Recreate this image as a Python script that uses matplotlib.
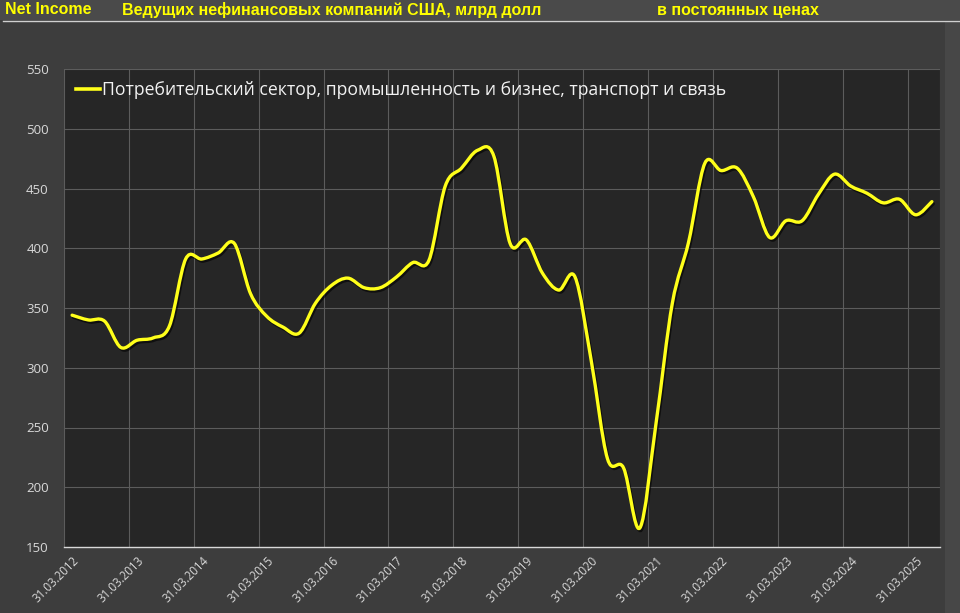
import matplotlib
matplotlib.use("Agg")
import matplotlib.pyplot as plt
import numpy as np
from matplotlib.path import Path
from matplotlib.patches import PathPatch, Rectangle
from matplotlib.lines import Line2D
import matplotlib.patheffects as pe

# ---- data ----
years = list(range(2012, 2026))
quarter_ends = ["31.03", "30.06", "30.09", "31.12"]
net_income = [344, 340, 339, 317, 323, 325, 335, 391, 391, 396, 404, 362, 343, 334,
              329, 354, 369, 375, 367, 367, 376, 388, 390, 452, 467, 482, 477, 404,
              407, 379, 365, 376, 306, 224, 216, 166, 254, 354, 405, 471, 465, 467,
              443, 409, 423, 423, 445, 462, 452, 446, 438, 441, 428, 439]
dates = [f"{q}.{y}" for y in years for q in quarter_ends][:len(net_income)]
y_ticks = [150, 200, 250, 300, 350, 400, 450, 500, 550]
title_parts = ["Net Income", "Ведущих нефинансовых компаний США, млрд долл", "в постоянных ценах"]
series_name = "Потребительский сектор, промышленность и бизнес, транспорт и связь"

plt.rcParams['font.family'] = ['Open Sans', 'DejaVu Sans']

W, H = 960, 613
fig = plt.figure(figsize=(W / 100, H / 100), dpi=100, facecolor="#3d3d3d")

# title band and side strip
fig.patches.append(Rectangle((0, 1 - 20 / H), 1, 20 / H, transform=fig.transFigure,
                             facecolor="#4a4a4a", edgecolor="none", zorder=0))
fig.patches.append(Rectangle((945 / W, 0), 15 / W, 1 - 21 / H, transform=fig.transFigure,
                             facecolor="#474747", edgecolor="none", zorder=0))
fig.lines.append(Line2D([3 / W, 1], [1 - 20.5 / H, 1 - 20.5 / H], transform=fig.transFigure,
                        color="#d0d0d0", lw=1.0))

ax = fig.add_axes([64 / W, 1 - 547 / H, (940 - 64) / W, (547 - 69) / H])
ax.set_facecolor("#262626")

n = len(net_income)
x = np.arange(n, dtype=float)
y = np.array(net_income, dtype=float)

# smooth (Catmull-Rom -> Bezier) line, like Excel's smoothed line
verts = [(x[0], y[0])]
codes = [Path.MOVETO]
for i in range(n - 1):
    p0 = np.array([x[max(i - 1, 0)], y[max(i - 1, 0)]])
    p1 = np.array([x[i], y[i]])
    p2 = np.array([x[i + 1], y[i + 1]])
    p3 = np.array([x[min(i + 2, n - 1)], y[min(i + 2, n - 1)]])
    c1 = p1 + (p2 - p0) / 6.0
    c2 = p2 - (p3 - p1) / 6.0
    verts += [tuple(c1), tuple(c2), tuple(p2)]
    codes += [Path.CURVE4] * 3
path = Path(verts, codes)
patch = PathPatch(path, facecolor="none", edgecolor="#ffff1a", lw=2.4, zorder=3,
                  capstyle="round", joinstyle="round",
                  path_effects=[pe.SimpleLineShadow(offset=(1, -1.5), shadow_color="black", alpha=0.6),
                                pe.Normal()])
ax.add_patch(patch)

ax.set_xlim(-0.5, n - 0.5)
ax.set_ylim(150, 550)
ax.set_yticks(y_ticks)
ax.set_yticklabels([str(v) for v in y_ticks], color="#d9d9d9", fontsize=9.5)

xt = list(range(0, n, 4))
ax.set_xticks(xt)
ax.set_xticklabels([dates[i] for i in xt], rotation=45, ha="right", va="top",
                   rotation_mode="anchor", color="#d9d9d9", fontsize=8.3)
ax.tick_params(axis="x", length=0, pad=5)
ax.tick_params(axis="y", length=0, pad=11)

# grid lines
for v in y_ticks[1:]:
    ax.axhline(v, color="#5c5c5c", lw=0.8, zorder=1)
for i in xt:
    ax.axvline(i - 0.5, color="#5c5c5c", lw=0.8, zorder=1)
ax.axvline(n - 0.5, color="#5c5c5c", lw=0.8, zorder=1)

for s in ["top", "right", "left"]:
    ax.spines[s].set_visible(False)
ax.spines["bottom"].set_color("#d9d9d9")
ax.spines["bottom"].set_linewidth(1.0)

# legend
leg = ax.legend([Line2D([0], [0], color="#ffff1a", lw=2.6)], [series_name],
                loc="upper left", bbox_to_anchor=(0.0, 1.0), frameon=False,
                handlelength=1.35, handletextpad=0.12, borderaxespad=0.3,
                prop={"size": 12.7})
for t in leg.get_texts():
    t.set_color("#f2f2f2")

# title texts
tkw = dict(color="#ffff00", fontsize=11.5, fontweight="bold", va="center", ha="left",
           family=["Liberation Sans", "DejaVu Sans"])
fig.text(5 / W, 1 - 10 / H, title_parts[0], **tkw)
fig.text(122 / W, 1 - 10 / H, title_parts[1], **tkw)
fig.text(657 / W, 1 - 10 / H, title_parts[2], **tkw)

fig.savefig("out.png", dpi=100, facecolor=fig.get_facecolor())
